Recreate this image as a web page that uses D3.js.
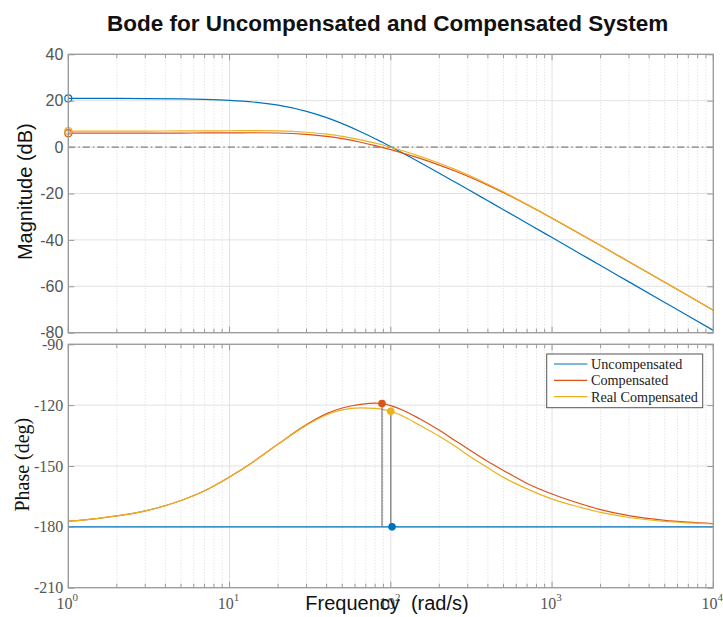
<!DOCTYPE html>
<html>
<head>
<meta charset="utf-8">
<script src="https://cdn.jsdelivr.net/npm/d3@7"></script>
<style>
  body { margin: 0; background: #fff; }
  svg { display: block; }
</style>
</head>
<body>
<svg id="chart"></svg>
<script>
// frequencies (rad/s) and values
const freq = [1, 1.5, 2, 3, 5, 7, 10, 14, 20, 30, 40, 50, 65, 80, 88, 100, 120, 150, 200, 250, 300, 400, 500, 700, 1000, 1500, 2000, 3000, 5000, 7000, 10000];

const magUncomp = [20.99, 20.98, 20.97, 20.92, 20.79, 20.58, 20.17, 19.45, 18.08, 15.42, 12.70, 10.12, 6.64, 3.62, 2.16, 0.17, -2.75, -6.42, -11.26, -15.06, -18.18, -23.14, -26.99, -32.82, -39.01, -46.05, -51.04, -58.09, -66.96, -72.80, -79.00];
const magComp = [6.01, 6.01, 6.02, 6.02, 6.06, 6.09, 6.14, 6.18, 6.08, 5.50, 4.62, 3.62, 2.08, 0.64, -0.09, -1.11, -2.68, -4.77, -7.76, -10.31, -12.56, -16.43, -19.66, -24.88, -30.70, -37.53, -42.44, -49.44, -58.28, -64.11, -70.30];
const magReal = [6.91, 6.91, 6.92, 6.92, 6.96, 6.99, 7.04, 7.08, 6.98, 6.40, 5.57, 4.62, 3.13, 1.74, 1.01, -0.06, -1.68, -3.87, -6.96, -9.61, -11.96, -15.98, -19.31, -24.68, -30.60, -37.48, -42.41, -49.42, -58.27, -64.10, -70.30];

const phaseUncomp = [-180, -180, -180, -180, -180, -180, -180, -180, -180, -180, -180, -180, -180, -180, -180, -180, -180, -180, -180, -180, -180, -180, -180, -180, -180, -180, -180, -180, -180, -180, -180];
const phaseComp = [-177.2, -175.9, -174.6, -172.1, -167.0, -162.2, -155.4, -148.0, -139.2, -129.6, -124.2, -121.4, -119.6, -119.0, -119.2, -120.2, -122.6, -126.6, -132.4, -137.4, -141.5, -147.8, -152.2, -158.6, -163.8, -168.6, -171.5, -174.5, -176.8, -177.7, -178.4];
const phaseReal = [-177.2, -175.9, -174.6, -172.1, -167.0, -162.2, -155.4, -148.0, -139.2, -129.9, -124.7, -122.3, -121.3, -121.6, -122.1, -123.0, -125.6, -129.8, -135.3, -140.2, -144.6, -150.9, -155.6, -161.3, -166.3, -170.4, -172.9, -175.4, -177.3, -178.0, -178.6];

// phase margin points: uncompensated, compensated, real compensated
const pmFreq = [101.8, 88.2, 100];
const pmPhase = [-180, -119.2, -123.0];

const seriesNames = ["Uncompensated", "Compensated", "Real Compensated"];
const colors = ["#0072BD", "#D95319", "#EDB120"];

const magTicks = [-80, -60, -40, -20, 0, 20, 40];
const phaseTicks = [-210, -180, -150, -120, -90];
const decadeLabels = ["0", "1", "2", "3", "4"];

const width = 723, height = 617;
const left = 68.3, right = 713.3;
const magTop = 54.3, magBottom = 332.7;
const phTop = 344.3, phBottom = 587.7;
const sans = "'Liberation Sans', Arial, sans-serif";
const serif = "'Liberation Serif', 'Times New Roman', serif";

const svg = d3.select("#chart").attr("width", width).attr("height", height)
  .style("font-family", sans);

const x = d3.scaleLog().domain([1, 1e4]).range([left, right]);
const yMag = d3.scaleLinear().domain([-80, 40]).range([magBottom, magTop]);
const yPh = d3.scaleLinear().domain([-210, -90]).range([phBottom, phTop]);

const xTicks = x.ticks();
const isMajor = v => Math.abs(Math.log10(v) - Math.round(Math.log10(v))) < 1e-9;

svg.append("defs").selectAll("clipPath")
  .data([["clipMag", magTop, magBottom], ["clipPh", phTop, phBottom]])
  .join("clipPath").attr("id", d => d[0])
  .append("rect").attr("x", left).attr("y", d => d[1])
  .attr("width", right - left).attr("height", d => d[2] - d[1]);

function panel(y, top, bottom, yTicks) {
  const g = svg.append("g");
  g.append("rect").attr("x", left).attr("y", top)
    .attr("width", right - left).attr("height", bottom - top).attr("fill", "#fff");
  // minor (dotted) and major vertical grid
  g.selectAll(".vgrid").data(xTicks).join("line")
    .attr("x1", d => x(d)).attr("x2", d => x(d))
    .attr("y1", top).attr("y2", bottom)
    .attr("stroke", d => isMajor(d) ? "#e2e2e2" : "#dadada")
    .attr("stroke-width", 1)
    .attr("stroke-dasharray", d => isMajor(d) ? null : "1,2");
  g.selectAll(".hgrid").data(yTicks).join("line")
    .attr("x1", left).attr("x2", right)
    .attr("y1", d => y(d)).attr("y2", d => y(d))
    .attr("stroke", "#e2e2e2").attr("stroke-width", 1);
  return g;
}

function frame(g, y, top, bottom, yTicks, labelFont) {
  g.append("rect").attr("x", left).attr("y", top)
    .attr("width", right - left).attr("height", bottom - top)
    .attr("fill", "none").attr("stroke", "#9a9a9a").attr("stroke-width", 1.3);
  // x ticks on bottom and top edges, pointing inward
  g.selectAll(".xtb").data(xTicks).join("line")
    .attr("x1", d => x(d)).attr("x2", d => x(d))
    .attr("y1", bottom).attr("y2", d => bottom - (isMajor(d) ? 6 : 4))
    .attr("stroke", "#9a9a9a");
  g.selectAll(".xtt").data(xTicks).join("line")
    .attr("x1", d => x(d)).attr("x2", d => x(d))
    .attr("y1", top).attr("y2", d => top + (isMajor(d) ? 6 : 4))
    .attr("stroke", "#9a9a9a");
  // y axis with labels, ticks inward
  const ax = g.append("g").attr("transform", `translate(${left},0)`)
    .call(d3.axisLeft(y).tickValues(yTicks).tickFormat(d => String(d))
      .tickSizeInner(-6).tickSizeOuter(0).tickPadding(5));
  ax.select(".domain").remove();
  ax.selectAll("line").attr("stroke", "#9a9a9a");
  ax.selectAll("text").attr("fill", "#555").style("font-size", "16px").style("font-family", labelFont);
  const axr = g.append("g").attr("transform", `translate(${right},0)`)
    .call(d3.axisRight(y).tickValues(yTicks).tickSizeInner(-6).tickSizeOuter(0).tickFormat(""));
  axr.select(".domain").remove();
  axr.selectAll("line").attr("stroke", "#9a9a9a");
}

// ---------- magnitude panel ----------
const gMag = panel(yMag, magTop, magBottom, magTicks);
gMag.append("line").attr("x1", left).attr("x2", right)
  .attr("y1", yMag(0)).attr("y2", yMag(0))
  .attr("stroke", "#666").attr("stroke-width", 1).attr("stroke-dasharray", "7,3,1.5,3");

const magLine = d3.line().x((d, i) => x(freq[i])).y(d => yMag(d)).curve(d3.curveMonotoneX);
const magSeries = [magUncomp, magComp, magReal];
gMag.append("g").attr("clip-path", "url(#clipMag)")
  .selectAll("path").data(magSeries).join("path")
  .attr("d", d => magLine(d)).attr("fill", "none")
  .attr("stroke", (d, i) => colors[i]).attr("stroke-width", 1.2);
gMag.selectAll(".startMark").data(magSeries).join("circle")
  .attr("cx", x(freq[0])).attr("cy", d => yMag(d[0])).attr("r", 3.5)
  .attr("fill", "none").attr("stroke", (d, i) => colors[i]).attr("stroke-width", 1.2);
frame(gMag, yMag, magTop, magBottom, magTicks, sans);

// ---------- phase panel ----------
const gPh = panel(yPh, phTop, phBottom, phaseTicks);
const phLine = d3.line().x((d, i) => x(freq[i])).y(d => yPh(d)).curve(d3.curveMonotoneX);
const phSeries = [phaseUncomp, phaseComp, phaseReal];
gPh.append("g").attr("clip-path", "url(#clipPh)")
  .selectAll("path").data(phSeries).join("path")
  .attr("d", d => phLine(d)).attr("fill", "none")
  .attr("stroke", (d, i) => colors[i]).attr("stroke-width", 1.2);
// vertical drop lines from the phase margin points
gPh.selectAll(".pmLine").data([1, 2]).join("line")
  .attr("x1", i => x(pmFreq[i])).attr("x2", i => x(pmFreq[i]))
  .attr("y1", i => yPh(pmPhase[i])).attr("y2", yPh(-180))
  .attr("stroke", "#7f7f7f").attr("stroke-width", 1.3);
gPh.selectAll(".pmDot").data(pmFreq).join("circle")
  .attr("cx", d => x(d)).attr("cy", (d, i) => yPh(pmPhase[i])).attr("r", 3.8)
  .attr("fill", (d, i) => colors[i]);
frame(gPh, yPh, phTop, phBottom, phaseTicks, serif);

// x tick labels 10^n
const xl = svg.append("g").style("font-family", serif).attr("fill", "#555");
const decades = xTicks.filter(isMajor);
const lbl = xl.selectAll("text").data(decades).join("text")
  .attr("x", d => x(d) - 1).attr("y", 608.5).attr("text-anchor", "middle").style("font-size", "16px");
lbl.append("tspan").text("10");
lbl.append("tspan").attr("dy", -8).style("font-size", "11px").text((d, i) => decadeLabels[i]);

// legend
const lg = svg.append("g").style("font-family", serif);
lg.append("rect").attr("x", 546.7).attr("y", 354).attr("width", 156).attr("height", 53.7)
  .attr("fill", "#fff").attr("stroke", "#555").attr("stroke-width", 1);
const rows = lg.selectAll(".row").data(seriesNames).join("g")
  .attr("transform", (d, i) => `translate(0, ${364 + i * 16.3})`);
rows.append("line").attr("x1", 554).attr("x2", 587.3)
  .attr("stroke", (d, i) => colors[i]).attr("stroke-width", 1.2);
rows.append("text").attr("x", 591).attr("y", 5).style("font-size", "14.2px").attr("fill", "#222").text(d => d);

// titles and axis labels
svg.append("text").attr("x", 387.6).attr("y", 31).attr("text-anchor", "middle")
  .style("font-size", "22.5px").style("font-weight", "bold").attr("fill", "#111")
  .text("Bode for Uncompensated and Compensated System");
svg.append("text").attr("transform", "translate(32,191.7) rotate(-90)").attr("text-anchor", "middle")
  .style("font-size", "20px").attr("fill", "#111").text("Magnitude (dB)");
svg.append("text").attr("transform", "translate(29,464.7) rotate(-90)").attr("text-anchor", "middle")
  .style("font-family", serif).style("font-size", "20px").attr("fill", "#111").text("Phase (deg)");
svg.append("text").attr("x", 387).attr("y", 610).attr("text-anchor", "middle")
  .style("font-size", "20px").attr("fill", "#111").attr("xml:space", "preserve").text("Frequency  (rad/s)");
</script>
</body>
</html>
